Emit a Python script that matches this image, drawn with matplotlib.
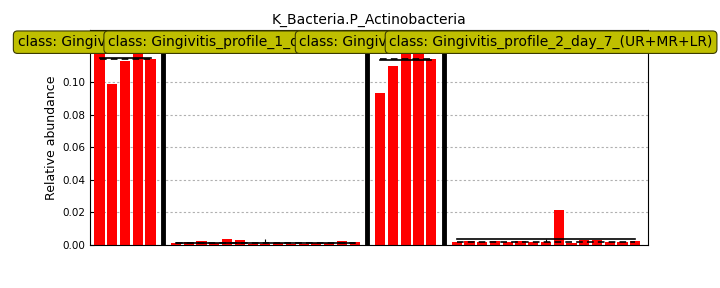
import numpy as np
import matplotlib
matplotlib.use('Agg')
import matplotlib.pyplot as plt

# --------------------------------------------------------------------------------------------------

title = 'K_Bacteria.P_Actinobacteria'
ylabel = 'Relative abundance'

classes = ['Gingivitis_profile_1_day_0_(UR+MR+LR)',
           'Gingivitis_profile_1_day_7_(UR+MR+LR)',
           'Gingivitis_profile_2_day_0_(UR+MR+LR)',
           'Gingivitis_profile_2_day_7_(UR+MR+LR)']

g1 = [0.122, 0.0986, 0.1127, 0.127, 0.1139]
g2 = [0.0012, 0.0016, 0.0027, 0.0014, 0.0037, 0.0031, 0.0004, 0.0006,
      0.0010, 0.0006, 0.0006, 0.0012, 0.0012, 0.0024, 0.0018]
g3 = [0.0931, 0.1096, 0.122, 0.128, 0.1139]
g4 = [0.0018, 0.0024, 0.0018, 0.0024, 0.0018, 0.0024, 0.0018, 0.0018,
      0.0214, 0.0012, 0.0033, 0.0033, 0.0018, 0.0018, 0.0024]

groups = [g1, g2, g3, g4]

# label box centres (data x)
label_x = [6.25, 13.35, 28.35, 35.4]
ymax = 0.1318

# --------------------------------------------------------------------------------------------------

fig = plt.figure(figsize=(7.2, 2.88), dpi=100)
ax = fig.add_axes([0.125, 0.149, 0.775, 0.747])

start = 0
centers = []
for k, vals in enumerate(groups):
    pos = np.arange(start, start+len(vals))
    ax.bar(pos, vals, width=0.8, color='r', linewidth=0, zorder=2)

    # mean (solid) and median (dashed)
    ax.plot([pos[0], pos[-1]], [np.mean(vals)]*2, color='k', lw=1.2, zorder=3)
    ax.plot([pos[0], pos[-1]], [np.median(vals)]*2, color='k', lw=1.2,
            ls=(0, (4, 2.5)), zorder=3)

    centers.append(pos.mean())
    if k < len(groups)-1:
        ax.axvline(pos[-1]+1, color='k', lw=3.5, zorder=4)
    start = pos[-1]+2

for k, cl in enumerate(classes):
    ax.text(label_x[k], 0.1243, 'class: '+cl, ha='center', va='center',
            fontsize=10, zorder=10+k, clip_on=False,
            bbox=dict(boxstyle='round,pad=0.3', facecolor=(0.75, 0.75, 0),
                      edgecolor='#3a3a00', linewidth=0.8))

ax.set_xlim(-0.75, 43.0)
ax.set_ylim(0, ymax)
ax.set_xticks(centers)
ax.set_xticklabels([])
ax.set_yticks(np.arange(0, 0.121, 0.02))
ax.set_yticklabels([f'{v:.2f}' for v in np.arange(0, 0.121, 0.02)], fontsize=7.5)
ax.tick_params(direction='in', length=3, width=0.8)
ax.tick_params(axis='x', length=4)

ax.set_axisbelow(True)
ax.yaxis.grid(True, color='#b0b0b0', ls=(0, (2, 2)), lw=0.8)

ax.set_ylabel(ylabel, fontsize=9, labelpad=3)
ax.set_title(title, fontsize=10, pad=4.5)

fig.savefig('out.png', dpi=100)
